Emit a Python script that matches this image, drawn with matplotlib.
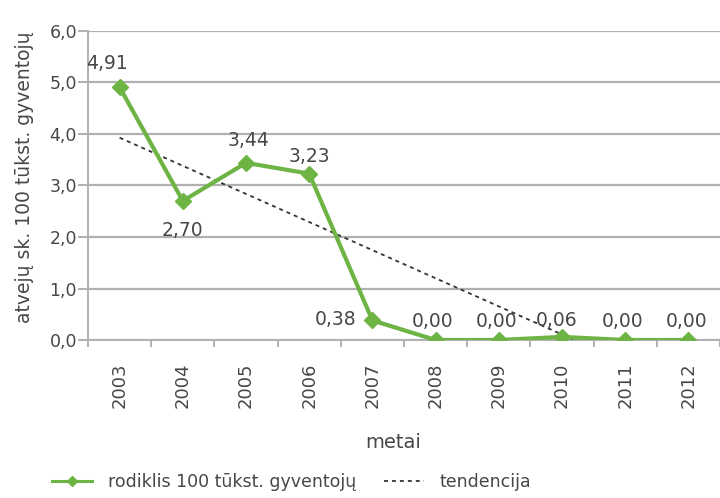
import numpy as np
import matplotlib
matplotlib.use("Agg")
import matplotlib.pyplot as plt
from matplotlib.lines import Line2D

years = ["2003", "2004", "2005", "2006", "2007", "2008", "2009", "2010", "2011", "2012"]
rate = [4.91, 2.70, 3.44, 3.23, 0.38, 0.00, 0.00, 0.06, 0.00, 0.00]
yticks = [0, 1, 2, 3, 4, 5, 6]

GREEN = "#6db445"
TEXT = "#474747"
GRID = "#b0b0b0"
TREND = "#333333"

plt.rcParams["font.family"] = ["DejaVu Sans"]

fig = plt.figure(figsize=(7.2, 4.98), dpi=100)
ax = fig.add_axes([88 / 720, 158 / 498, 632 / 720, 309 / 498])

x = np.arange(len(years))

# linear trend, cut where it reaches zero
k, b = np.polyfit(x, rate, 1)
x_end = -b / k
ax.plot([0, x_end], [b, 0], ls=(0, (2.2, 2.2)), color=TREND, lw=1.3, zorder=3)

ax.plot(x, rate, color=GREEN, lw=3, marker="D", ms=8.5, mfc=GREEN, mec=GREEN, zorder=4)

# value labels (offsets in points from the marker, baseline aligned)
offsets = {0: (-9, 13), 1: (0, -25), 2: (2, 12), 3: (0, 8.5), 4: (-26.5, -3.6),
           5: (-2, 9.4), 6: (-1.5, 9.4), 7: (-3.6, 7.5), 8: (-2, 9.4), 9: (-1.5, 9.4)}
for i, v in enumerate(rate):
    dx, dy = offsets[i]
    ax.annotate(f"{v:.2f}".replace(".", ","), (x[i], v), xytext=(dx, dy),
                textcoords="offset points", ha="center", va="baseline",
                fontsize=13.5, color=TEXT, zorder=5)

ax.set_ylim(0, 6)
ax.set_xlim(-0.5, 9.5 - 10 / 64.2)
ax.set_yticks(yticks)
ax.set_yticklabels([f"{t:.1f}".replace(".", ",") for t in yticks])
ax.set_xticks(x)
ax.set_xticklabels(years, rotation=90)
ax.set_xticks(np.arange(-0.5, 10, 1), minor=True)
ax.tick_params(axis="x", which="major", length=0, pad=16, labelsize=13, colors=TEXT)
ax.tick_params(axis="x", which="minor", length=5, color=GRID, width=1.4)
ax.tick_params(axis="y", length=7, color=GRID, width=1.4, labelsize=12.5, colors=TEXT, pad=1)

ax.grid(axis="y", color=GRID, lw=1.6)
ax.set_axisbelow(True)
for s in ["top", "right"]:
    ax.spines[s].set_visible(False)
for s in ["left", "bottom"]:
    ax.spines[s].set_color(GRID)
    ax.spines[s].set_linewidth(1.4)

fig.text(25 / 720, 1 - 177 / 498, "atvejų sk. 100 tūkst. gyventojų", rotation=90,
         ha="center", va="center", fontsize=13.5, color=TEXT)
fig.text(393 / 720, 1 - 443 / 498, "metai", ha="center", va="center", fontsize=14, color=TEXT)

handles = [
    Line2D([], [], color=GREEN, lw=2.2, marker="D", ms=5),
    Line2D([], [], color=TREND, lw=1.3, ls=(0, (2.2, 2.2))),
]
fig.legend(handles, ["rodiklis 100 tūkst. gyventojų", "tendencija"], loc="center left",
           bbox_to_anchor=(52 / 720, 1 - 482 / 498), ncol=2, frameon=False,
           borderpad=0, borderaxespad=0, fontsize=12.5, labelcolor=TEXT,
           handlelength=2.3, handletextpad=0.9, columnspacing=1.6)

fig.savefig("out.png", dpi=100, facecolor="white")
